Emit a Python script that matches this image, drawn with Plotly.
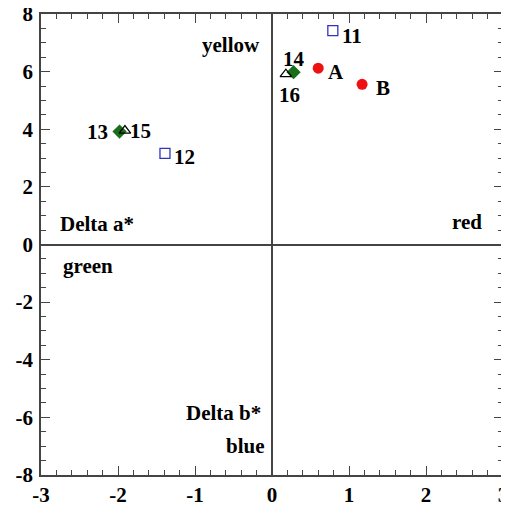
import plotly.graph_objects as go

# Data (Delta a*, Delta b*)
circle_x = [0.60, 1.17]
circle_y = [6.12, 5.56]
circle_lbl = ["A", "B"]

square_x = [0.79, -1.39]
square_y = [7.42, 3.16]
square_lbl = ["11", "12"]

diamond_x = [-1.98, 0.28]
diamond_y = [3.92, 5.98]
diamond_lbl = ["13", "14"]

triangle_x = [-1.91, 0.18]
triangle_y = [3.95, 5.91]
triangle_lbl = ["15", "16"]

x_ticks = [-3, -2, -1, 0, 1, 2, 3]
x_tick_text = ["-3", "-2", "-1", "0", "1", "2", "3"]
y_ticks = [-8, -6, -4, -2, 0, 2, 4, 6, 8]
y_tick_text = ["-8", "-6", "-4", "-2", "0", "2", "4", "6", "8"]

FONT = "Liberation Serif"
LBL = dict(family=FONT, size=21, color="black", weight="bold")

# label offsets in pixels (dx, dy-up) per point
circle_off = [(18, -4), (21, -4)]
square_off = [(19, -5), (20, -4)]
diamond_off = [(-22, 0), (0, 13)]
triangle_off = [(16, 0), (4, -21)]

fig = go.Figure()
series = [
    (circle_x, circle_y, circle_lbl, circle_off, dict(symbol="circle", size=11, color="#ee1111")),
    (square_x, square_y, square_lbl, square_off,
     dict(symbol="square-open", size=10, color="#3333bb", line=dict(width=1.3))),
    (diamond_x, diamond_y, diamond_lbl, diamond_off, dict(symbol="diamond", size=11, color="#1a6e1a")),
    (triangle_x, triangle_y, triangle_lbl, triangle_off,
     dict(symbol="triangle-up-open", size=10, color="black", line=dict(width=1.3))),
]
for xs, ys, lbls, offs, mk in series:
    fig.add_trace(go.Scatter(x=xs, y=ys, mode="markers", marker=mk, cliponaxis=False))
    for x, y, t, (dx, dy) in zip(xs, ys, lbls, offs):
        fig.add_annotation(x=x, y=y, text=t, showarrow=False, xshift=dx, yshift=dy,
                           xanchor="center", yanchor="middle", font=LBL)

annots = [
    ("yellow", -0.13, 6.93, "right"),
    ("Delta a*", -2.78, 0.71, "left"),
    ("green", -2.74, -0.75, "left"),
    ("red", 2.75, 0.78, "right"),
    ("Delta b*", -0.12, -5.85, "right"),
    ("blue", -0.07, -7.0, "right"),
]
for t, x, y, al in annots:
    fig.add_annotation(x=x, y=y, text=t, showarrow=False, xanchor=al, yanchor="middle", font=LBL)

axis_common = dict(showline=True, linecolor="#444", linewidth=1.5, mirror="allticks",
                   ticks="inside", ticklen=9, tickwidth=1.3, tickcolor="#444",
                   showgrid=False, zeroline=True, zerolinecolor="#444", zerolinewidth=1.5,
                   automargin=False, ticklabeloverflow="allow",
                   tickfont=dict(family=FONT, size=21, color="black", weight="bold"))

fig.update_xaxes(range=[-3, 3], tickvals=x_ticks, ticktext=x_tick_text,
                 minor=dict(ticks="inside", dtick=0.2, ticklen=5, tickcolor="#444", tickwidth=1),
                 **axis_common)
fig.update_yaxes(range=[-8, 8], tickvals=y_ticks, ticktext=y_tick_text, ticklabelstandoff=2,
                 minor=dict(ticks="inside", dtick=0.5, ticklen=5, tickcolor="#444", tickwidth=1),
                 **axis_common)

# page body has an 8px default margin; figure sized to fit the 509x515 window
fig.update_layout(width=501, height=499, margin=dict(l=33, r=6, t=6, b=32),
                  plot_bgcolor="white", paper_bgcolor="white", showlegend=False)

fig.write_html("out.html")
